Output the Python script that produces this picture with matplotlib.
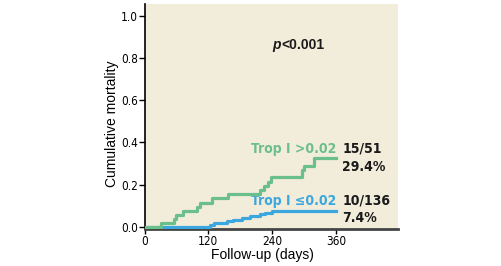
import matplotlib
matplotlib.use("Agg")
import matplotlib.pyplot as plt

# Kaplan-Meier style cumulative mortality
high_days = [0, 31, 56, 59, 73, 99, 105, 127, 157, 218, 225, 233, 238, 296, 299, 318, 361]
high_mort = [0, 0.018, 0.037, 0.058, 0.074, 0.095, 0.113, 0.136, 0.156, 0.175, 0.194,
             0.213, 0.238, 0.268, 0.288, 0.326, 0.326]
low_days = [0, 123, 131, 155, 167, 183, 199, 217, 227, 239, 361]
low_mort = [0, 0.010, 0.018, 0.026, 0.034, 0.041, 0.050, 0.059, 0.068, 0.077, 0.077]

high_label, high_count, high_pct = "Trop I >0.02", "15/51", "29.4%"
low_label, low_count, low_pct = "Trop I \u22640.02", "10/136", "7.4%"
p_text = "<0.001"
x_ticks = [0, 120, 240, 360]
y_ticks = [0.0, 0.2, 0.4, 0.6, 0.8, 1.0]

GREEN, BLUE, PAPER = "#6bbf8a", "#3ba7df", "#f2edda"
SANS = ["Liberation Sans", "DejaVu Sans"]

fig = plt.figure(figsize=(5.02, 2.66), dpi=100, facecolor="white")
ax = fig.add_axes([0.288, 0.138, 0.504, 0.847], facecolor=PAPER)

ax.step(low_days, low_mort, where="post", color=BLUE, linewidth=2.3, zorder=3)
ax.step(high_days, high_mort, where="post", color=GREEN, linewidth=2.3, zorder=4)

ax.set_xlim(0, 476)
ax.set_ylim(-0.011, 1.055)
ax.set_xticks(x_ticks)
ax.set_yticks(y_ticks)
ax.set_yticklabels([f"{v:.1f}" for v in y_ticks])
ax.tick_params(direction="out", length=4, width=1, labelsize=8.5, pad=1)
ax.tick_params(axis="x", length=3.5, pad=0.5)
for lab in ax.get_xticklabels() + ax.get_yticklabels():
    lab.set_family("DejaVu Sans")
    lab.set_stretch("condensed")

ax.spines[["top", "right"]].set_visible(False)
ax.spines["left"].set_color("black")
ax.spines["left"].set_linewidth(1.2)
ax.spines["bottom"].set_color("#454545")
ax.spines["bottom"].set_linewidth(2.0)

ax.set_ylabel("Cumulative mortality", fontsize=10, family=SANS)
ax.yaxis.set_label_coords(-0.1, 0.47)
ax.set_xlabel("Follow-up (days)", fontsize=10, family=SANS)
ax.xaxis.set_label_coords(0.464, -0.083)

# curve labels
lab_kw = dict(fontsize=10, fontweight="bold", family="DejaVu Sans",
              fontstretch="condensed", va="center")
ax.text(361, 0.369, high_label, color=GREEN, ha="right", **lab_kw)
ax.text(372, 0.369, high_count, color="#1a1a1a", ha="left", **lab_kw)
ax.text(372, 0.286, high_pct, color="#1a1a1a", ha="left", **lab_kw)
ax.text(361, 0.123, low_label, color=BLUE, ha="right", **lab_kw)
ax.text(372, 0.123, low_count, color="#1a1a1a", ha="left", **lab_kw)
ax.text(372, 0.042, low_pct, color="#1a1a1a", ha="left", **lab_kw)

ax.text(257, 0.861, "p", fontsize=10, fontweight="bold", style="italic",
        family=SANS, ha="right", va="center", color="#1a1a1a")
ax.text(257, 0.861, p_text, fontsize=10, fontweight="bold",
        family=SANS, ha="left", va="center", color="#1a1a1a")

fig.savefig("out.png", dpi=100, facecolor=fig.get_facecolor())
